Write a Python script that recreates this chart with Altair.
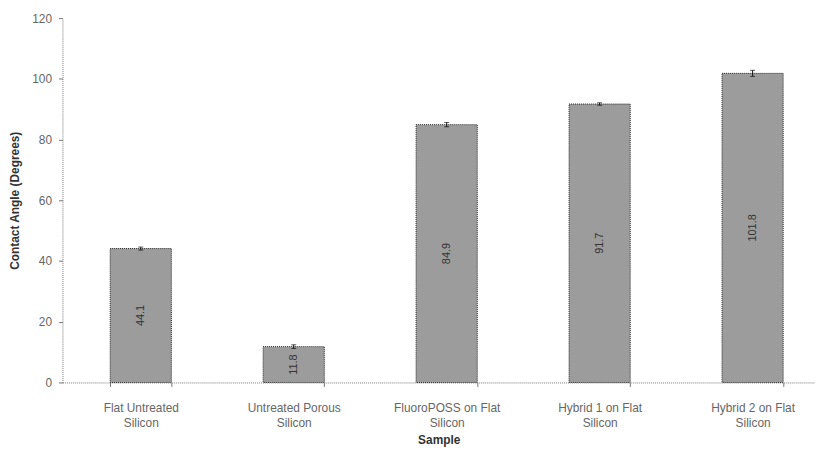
import altair as alt
import pandas as pd

categories = ["Flat Untreated|Silicon", "Untreated Porous|Silicon", "FluoroPOSS on Flat|Silicon",
              "Hybrid 1 on Flat|Silicon", "Hybrid 2 on Flat|Silicon"]
values = [44.1, 11.8, 84.9, 91.7, 101.8]
errors = [0.5, 0.6, 0.7, 0.4, 1.0]
labels = ["44.1", "11.8", "84.9", "91.7", "101.8"]

df = pd.DataFrame({"Sample": categories, "Angle": values, "err": errors, "label": labels})
df["lo"] = df["Angle"] - df["err"]
df["hi"] = df["Angle"] + df["err"]
df["mid"] = df["Angle"] / 2

grey = "#666666"
ytitle = "Contact Angle (Degrees)"

x = alt.X("Sample:N", sort=categories, title="Sample",
          scale=alt.Scale(paddingInner=0.6, paddingOuter=0.26, align=0.6),
          axis=alt.Axis(labelAngle=0, labelExpr="split(datum.label, '|')", labelLimit=200,
                        labelFontSize=12, labelColor=grey, labelFont="Liberation Sans",
                        labelLineHeight=15, labelBaseline="top",
                        titleFontSize=12, titleFont="Liberation Sans", titleColor="#333333",
                        titleFontWeight="bold", domainColor="#777777", domainDash=[1, 1],
                        tickColor="#777777", tickBand="extent", tickSize=4, labelPadding=16,
                        titlePadding=7))

base = alt.Chart(df)

bars = base.mark_bar(color="#9c9c9c", stroke="#222222", strokeWidth=1, strokeDash=[1, 1]).encode(
    x=x,
    y=alt.Y("Angle:Q", title=ytitle,
            scale=alt.Scale(domain=[0, 120], nice=False),
            axis=alt.Axis(values=[0, 20, 40, 60, 80, 100, 120], grid=False,
                          labelFontSize=12, labelColor=grey, labelFont="Liberation Sans",
                          titleFontSize=12, titleFont="Liberation Sans", titleColor="#333333",
                          titleFontWeight="bold", domainColor="#777777", domainDash=[1, 1],
                          tickColor="#777777", tickSize=4, labelPadding=7, titlePadding=10)),
)

err = base.mark_errorbar(color="#111111", ticks=alt.MarkConfig(size=5)).encode(
    x=alt.X("Sample:N", sort=categories),
    y=alt.Y("lo:Q", title=ytitle),
    y2="hi:Q",
)

text = base.mark_text(angle=270, fontSize=11, color="#333333", font="Liberation Sans").encode(
    x=alt.X("Sample:N", sort=categories),
    y=alt.Y("mid:Q", title=ytitle),
    text="label:N",
)

chart = alt.layer(bars, err, text).properties(
    width=760, height=368,
    padding={"top": 2, "left": 0, "right": 0, "bottom": 0},
).configure_view(stroke=None)

chart.save("out.html", embed_options={"renderer": "svg", "actions": False})
